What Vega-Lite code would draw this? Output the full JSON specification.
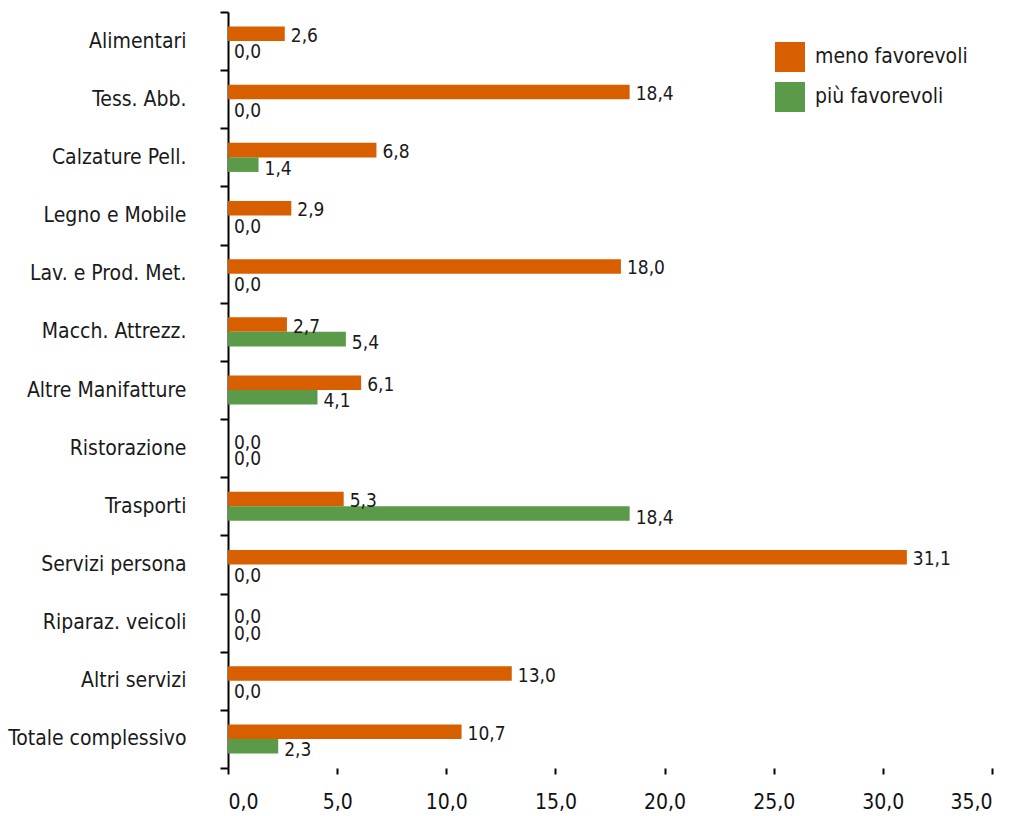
{
  "$schema": "https://vega.github.io/schema/vega-lite/v6.json",
  "width": 764,
  "height": 756,
  "autosize": {"type": "none"},
  "padding": {"left": 228, "top": 12, "right": 27, "bottom": 48},
  "background": "white",
  "config": {
    "font": "'DejaVu Sans Condensed', 'Liberation Sans Narrow', sans-serif",
    "view": {"stroke": null},
    "locale": {"number": {"decimal": ",", "thousands": ".", "grouping": [3], "currency": ["€", ""]}}
  },
  "data": {
    "values": [
      {"cat": "Alimentari", "serie": "meno favorevoli", "val": 2.6},
      {"cat": "Alimentari", "serie": "più favorevoli", "val": 0.0},
      {"cat": "Tess. Abb.", "serie": "meno favorevoli", "val": 18.4},
      {"cat": "Tess. Abb.", "serie": "più favorevoli", "val": 0.0},
      {"cat": "Calzature Pell.", "serie": "meno favorevoli", "val": 6.8},
      {"cat": "Calzature Pell.", "serie": "più favorevoli", "val": 1.4},
      {"cat": "Legno e Mobile", "serie": "meno favorevoli", "val": 2.9},
      {"cat": "Legno e Mobile", "serie": "più favorevoli", "val": 0.0},
      {"cat": "Lav.  e Prod. Met.", "serie": "meno favorevoli", "val": 18.0},
      {"cat": "Lav.  e Prod. Met.", "serie": "più favorevoli", "val": 0.0},
      {"cat": "Macch. Attrezz.", "serie": "meno favorevoli", "val": 2.7},
      {"cat": "Macch. Attrezz.", "serie": "più favorevoli", "val": 5.4},
      {"cat": "Altre Manifatture", "serie": "meno favorevoli", "val": 6.1},
      {"cat": "Altre Manifatture", "serie": "più favorevoli", "val": 4.1},
      {"cat": "Ristorazione", "serie": "meno favorevoli", "val": 0.0},
      {"cat": "Ristorazione", "serie": "più favorevoli", "val": 0.0},
      {"cat": "Trasporti", "serie": "meno favorevoli", "val": 5.3},
      {"cat": "Trasporti", "serie": "più favorevoli", "val": 18.4},
      {"cat": "Servizi persona", "serie": "meno favorevoli", "val": 31.1},
      {"cat": "Servizi persona", "serie": "più favorevoli", "val": 0.0},
      {"cat": "Riparaz. veicoli", "serie": "meno favorevoli", "val": 0.0},
      {"cat": "Riparaz. veicoli", "serie": "più favorevoli", "val": 0.0},
      {"cat": "Altri servizi", "serie": "meno favorevoli", "val": 13.0},
      {"cat": "Altri servizi", "serie": "più favorevoli", "val": 0.0},
      {"cat": "Totale complessivo", "serie": "meno favorevoli", "val": 10.7},
      {"cat": "Totale complessivo", "serie": "più favorevoli", "val": 2.3}
    ]
  },
  "encoding": {
    "y": {
      "field": "cat", "type": "nominal", "sort": null,
      "scale": {"paddingInner": 0, "paddingOuter": 0},
      "axis": {
        "title": null, "domainColor": "#000000", "domainWidth": 2,
        "tickColor": "#000000", "tickWidth": 2, "tickSize": 8, "tickBand": "extent",
        "labelFontSize": 21, "labelColor": "#1a1a1a", "labelPadding": 34, "labelLimit": 300
      }
    },
    "yOffset": {
      "field": "serie", "type": "nominal",
      "scale": {"paddingOuter": 1.64, "paddingInner": 0}
    },
    "x": {
      "field": "val", "type": "quantitative",
      "scale": {"domain": [0, 35], "nice": false},
      "axis": {
        "title": null, "grid": false, "domain": false, "values": [0, 5, 10, 15, 20, 25, 30, 35],
        "format": ".1f", "tickColor": "#000000", "tickWidth": 2, "tickSize": 6,
        "labelFontSize": 21, "labelColor": "#111111", "labelPadding": 17
      }
    }
  },
  "layer": [
    {
      "mark": {"type": "bar", "cornerRadius": 0},
      "encoding": {
        "color": {
          "field": "serie", "type": "nominal",
          "scale": {"domain": ["meno favorevoli", "più favorevoli"], "range": ["#d75f00", "#5a9a48"]},
          "legend": {
            "title": null, "orient": "none", "legendX": 547, "legendY": 30,
            "symbolType": "square", "symbolSize": 900, "symbolStrokeWidth": 0,
            "labelFontSize": 21, "labelColor": "#1a1a1a", "rowPadding": 10, "labelOffset": 10
          }
        }
      }
    },
    {
      "transform": [{"filter": "datum.serie == 'meno favorevoli'"}],
      "mark": {"type": "text", "align": "left", "baseline": "middle", "dx": 6, "dy": 2, "fontSize": 19, "color": "#1a1a1a"},
      "encoding": {"text": {"field": "val", "type": "quantitative", "format": ".1f"}}
    },
    {
      "transform": [{"filter": "datum.serie == 'più favorevoli'"}],
      "mark": {"type": "text", "align": "left", "baseline": "middle", "dx": 6, "dy": 4, "fontSize": 19, "color": "#1a1a1a"},
      "encoding": {"text": {"field": "val", "type": "quantitative", "format": ".1f"}}
    }
  ]
}
